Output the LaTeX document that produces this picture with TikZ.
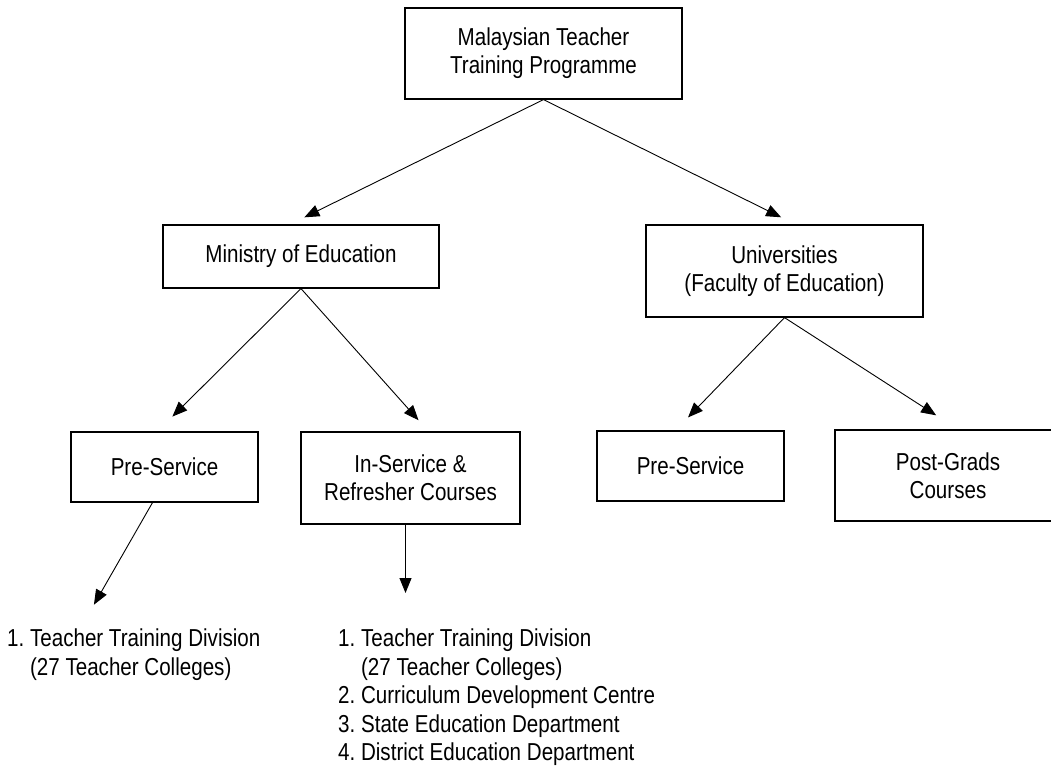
\documentclass[tikz,border=0pt]{standalone}
\usepackage{fontspec}
\setmainfont[FakeStretch=0.84]{Liberation Sans}
\usetikzlibrary{arrows.meta}
\frenchspacing
\begin{document}
\begin{tikzpicture}[x=1pt,y=-1pt,
  box/.style={rectangle,draw,line width=1.2pt,align=center,inner sep=0pt,font=\fontsize{24.5}{28}\selectfont},
  lst/.style={align=left,inner sep=0pt,anchor=north west,font=\fontsize{24.5}{28.5}\selectfont},
  arr/.style={line width=0.9pt,-{Triangle[length=15pt,width=12pt]}}]
\useasboundingbox (0,0) rectangle (1051,765);
\draw (543.5,53.5) node[box,minimum width=277pt,minimum height=91pt] (mttp) {Malaysian Teacher\\Training Programme};
\draw (301,256.5) node[box,minimum width=276pt,minimum height=63pt] (moe) {Ministry of Education};
\draw (784.5,271) node[box,minimum width=277pt,minimum height=92pt] (uni) {Universities\\(Faculty of Education)};
\draw (164.5,467) node[box,minimum width=187pt,minimum height=70pt] (prel) {Pre-Service};
\draw (410.5,478) node[box,minimum width=219pt,minimum height=92pt] (ins) {In-Service \&\\Refresher Courses};
\draw (690.5,466) node[box,minimum width=187pt,minimum height=70pt] (prer) {Pre-Service};
\draw (948,475.5) node[box,minimum width=226pt,minimum height=91pt] (pg) {Post-Grads\\Courses};
\draw (7,629) node[lst] (list1) {1. Teacher Training Division\\\phantom{1. }(27 Teacher Colleges)};
\draw (338,629) node[lst] (list2) {1. Teacher Training Division\\\phantom{1. }(27 Teacher Colleges)\\2. Curriculum Development Centre\\3. State Education Department\\4. District Education Department};
\draw[arr,shorten >=16pt] (mttp.south) -- ([xshift=-11pt]moe.north);
\draw[arr,shorten >=16pt] (mttp.south) -- ([xshift=11pt]uni.north);
\draw[arr,shorten >=21pt] (moe.south) -- ([xshift=-7pt]prel.north);
\draw[arr,shorten >=15pt] (moe.south) -- ([xshift=18pt]ins.north);
\draw[arr,shorten >=18pt] (uni.south) -- ([xshift=-15pt]prer.north);
\draw[arr,shorten >=26pt] (uni.south) -- ([xshift=10pt]pg.north);
\draw[arr,shorten >=28pt] ([xshift=-12pt]prel.south) -- ([xshift=73pt]list1.north west);
\draw[arr,shorten >=36pt] ([xshift=-5pt]ins.south) -- ([xshift=-5pt]ins.south |- list2.north);
\end{tikzpicture}
\end{document}
